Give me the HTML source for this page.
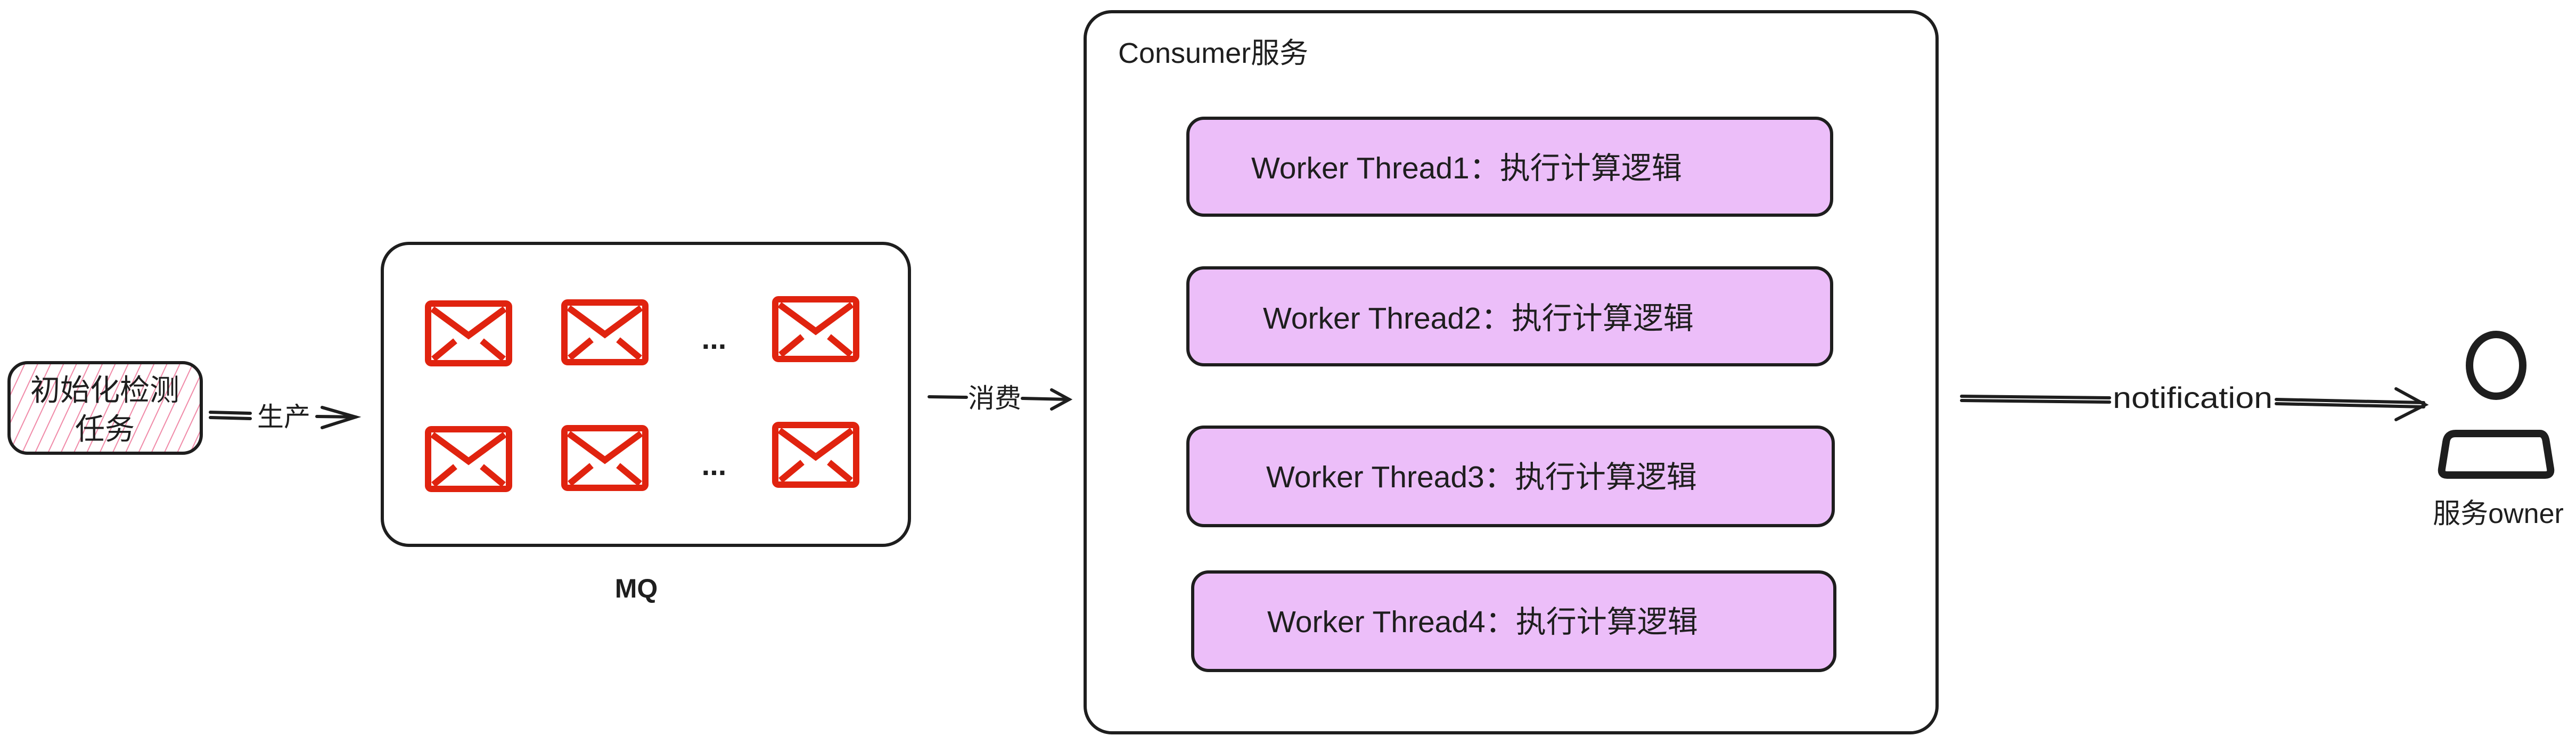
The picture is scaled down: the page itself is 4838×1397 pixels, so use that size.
<!DOCTYPE html>
<html><head><meta charset="utf-8"><style>
html,body{margin:0;padding:0;background:#fff;}
svg{display:block;}
text{font-family:"Liberation Sans","Noto Sans CJK SC",sans-serif;fill:#1e1e1e;}
</style></head><body>
<svg width="4838" height="1397" viewBox="0 0 4838 1397" xmlns="http://www.w3.org/2000/svg">
<defs>
<pattern id="hatch" width="22" height="22" patternUnits="userSpaceOnUse" patternTransform="rotate(25)">
<rect width="22" height="22" fill="#fff"/>
<line x1="0" y1="0" x2="0" y2="22" stroke="#f08aa8" stroke-width="4"/>
</pattern>
<g id="env">
<rect x="4" y="4" width="152" height="112" rx="6" fill="none" stroke="#e0230f" stroke-width="12"/>
<polyline points="12,14 80,64 148,14" fill="none" stroke="#e0230f" stroke-width="12"/>
<line x1="14" y1="108" x2="55" y2="74" stroke="#e0230f" stroke-width="12"/>
<line x1="146" y1="108" x2="105" y2="74" stroke="#e0230f" stroke-width="12"/>
</g>
</defs>
<g fill="none" stroke="#1e1e1e" stroke-width="6" stroke-linecap="round">
<rect x="17" y="681" width="361" height="170" rx="35" fill="url(#hatch)"/>
<rect x="718" y="457" width="990" height="567" rx="50"/>
<rect x="2038" y="22" width="1600" height="1354" rx="50"/>
<rect x="2231" y="222" width="1209" height="182" rx="30" fill="#ecbef9"/>
<rect x="2231" y="503" width="1209" height="182" rx="30" fill="#ecbef9"/>
<rect x="2231" y="802" width="1212" height="185" rx="30" fill="#ecbef9"/>
<rect x="2240" y="1074" width="1206" height="185" rx="30" fill="#ecbef9"/>
<line x1="395" y1="774" x2="470" y2="776"/>
<line x1="395" y1="784" x2="470" y2="786"/>
<line x1="595" y1="782" x2="668" y2="783"/>
<polyline points="605,765 668,783 605,803"/>
<line x1="1745" y1="745" x2="1815" y2="746"/>
<line x1="1920" y1="748" x2="2008" y2="750"/>
<polyline points="1975,732 2008,750 1975,768"/>
<line x1="3684" y1="744" x2="3962" y2="747"/>
<line x1="3684" y1="752" x2="3962" y2="755"/>
<line x1="4275" y1="750" x2="4552" y2="756"/>
<line x1="4275" y1="758" x2="4552" y2="764"/>
<polyline points="4500,730 4555,760 4500,788"/>
<ellipse cx="4688" cy="686" rx="50" ry="58" stroke-width="14"/>
<path d="M4612,814 L4770,814 Q4780,814 4782,830 L4790,880 Q4792,892 4780,892 L4596,892 Q4584,892 4586,880 L4594,830 Q4596,814 4612,814 Z" stroke-width="14"/>
</g>
<use href="#env" x="800" y="566"/>
<use href="#env" x="1056" y="564"/>
<use href="#env" x="1452" y="558"/>
<use href="#env" x="800" y="802"/>
<use href="#env" x="1056" y="800"/>
<use href="#env" x="1452" y="794"/>
<text x="1341" y="655" font-size="56" font-weight="bold" text-anchor="middle">...</text>
<text x="1341" y="892" font-size="56" font-weight="bold" text-anchor="middle">...</text>
<text x="197" y="752" font-size="56" text-anchor="middle">初始化检测</text>
<text x="197" y="825" font-size="56" text-anchor="middle">任务</text>
<text x="533" y="800" font-size="50" text-anchor="middle">生产</text>
<text x="1868" y="765" font-size="50" text-anchor="middle">消费</text>
<text x="1195" y="1122" font-size="50" font-weight="bold" text-anchor="middle">MQ</text>
<text x="2100" y="118" font-size="54">Consumer服务</text>
<text x="2350" y="335" font-size="57">Worker Thread1：执行计算逻辑</text>
<text x="2372" y="617" font-size="57">Worker Thread2：执行计算逻辑</text>
<text x="2378" y="915" font-size="57">Worker Thread3：执行计算逻辑</text>
<text x="2380" y="1187" font-size="57">Worker Thread4：执行计算逻辑</text>
<text x="4118" y="766" font-size="56" text-anchor="middle" textLength="300" lengthAdjust="spacingAndGlyphs">notification</text>
<text x="4692" y="982" font-size="52" text-anchor="middle">服务owner</text>
</svg>
</body></html>
